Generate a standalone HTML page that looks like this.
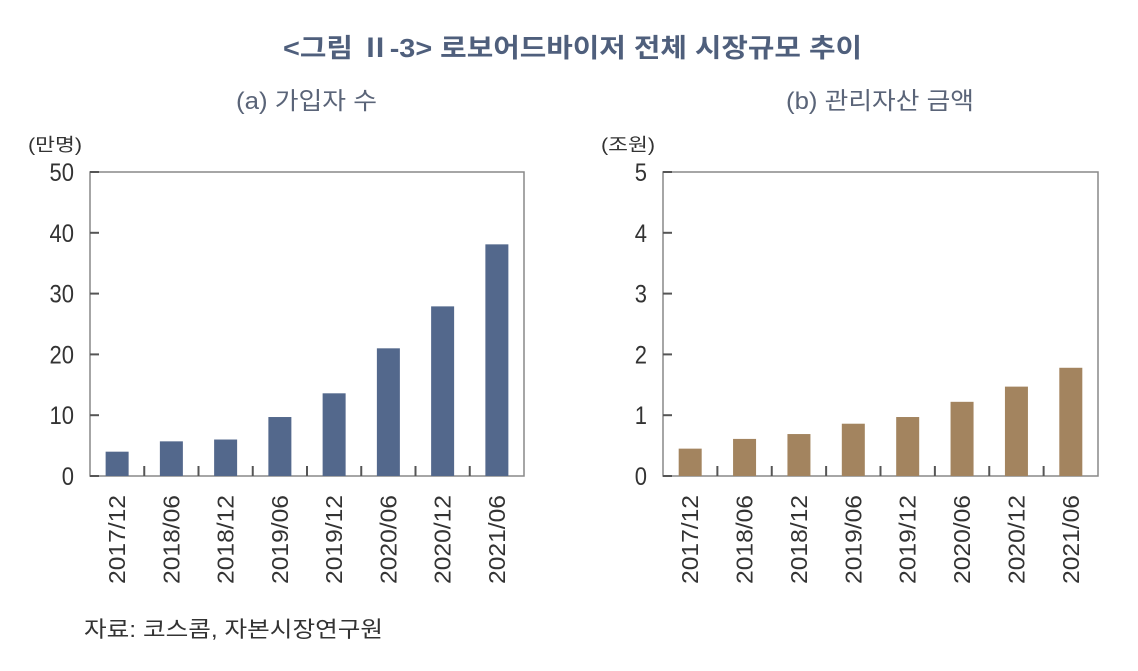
<!DOCTYPE html>
<html><head><meta charset="utf-8"><style>
body{margin:0;background:#fff;width:1138px;height:666px;overflow:hidden;font-family:"Liberation Sans","Noto Sans CJK KR",sans-serif}
</style></head><body>
<svg width="1138" height="666" xmlns="http://www.w3.org/2000/svg" font-family="Liberation Sans, Noto Sans CJK KR, sans-serif">
<text x="283" y="57" font-size="26" font-weight="bold" fill="#4f5f7c" textLength="579" lengthAdjust="spacingAndGlyphs">&lt;그림 Ⅱ-3&gt; 로보어드바이저 전체 시장규모 추이</text>
<text x="236" y="109" font-size="24" fill="#5a6478" textLength="141" lengthAdjust="spacingAndGlyphs">(a) 가입자 수</text>
<text x="786" y="109" font-size="24" fill="#5a6478" textLength="188" lengthAdjust="spacingAndGlyphs">(b) 관리자산 금액</text>
<text x="28" y="151" font-size="18" fill="#333" textLength="54" lengthAdjust="spacingAndGlyphs">(만명)</text>
<text x="601" y="151" font-size="18" fill="#333" textLength="54" lengthAdjust="spacingAndGlyphs">(조원)</text>
<text x="84" y="637" font-size="22" fill="#333" textLength="299" lengthAdjust="spacingAndGlyphs">자료: 코스콤, 자본시장연구원</text>
<g id="ca"></g><g id="cb"></g>
</svg>
<script>
const categories=["2017/12","2018/06","2018/12","2019/06","2019/12","2020/06","2020/12","2021/06"];
const subscribers=[4.0,5.7,6.0,9.7,13.6,21.0,27.9,38.1];
const assets=[0.45,0.61,0.69,0.86,0.97,1.22,1.47,1.78];
const ticksA=[0,10,20,30,40,50];
const ticksB=[0,1,2,3,4,5];
const NS="http://www.w3.org/2000/svg";
function mk(p,t,a){const e=document.createElementNS(NS,t);for(const k in a)e.setAttribute(k,a[k]);p.appendChild(e);return e;}
function draw(g,x0,x1,vals,ticks,color,id){
 const top=172,bot=476,max=ticks[ticks.length-1];
 const y=v=>bot-(v/max)*(bot-top);
 const step=(x1-x0)/categories.length;
 const box=mk(g,'rect',{x:x0,y:top,width:x1-x0,height:bot-top,fill:'none',stroke:'#888','stroke-width':1.5});
 
 
 ticks.forEach(t=>{
  const l=mk(g,'line',{x1:x0,x2:x0+9,y1:y(t),y2:y(t),stroke:'#555','stroke-width':2});
  
  
  const tx=mk(g,'text',{x:x0-16,y:y(t)+9,'text-anchor':'end','font-size':25,fill:'#333',transform:`translate(${(x0-16)*0.12},0) scale(0.88,1)`});
  tx.textContent=t;
  
  
 });
 categories.forEach((c,i)=>{
  const cx=x0+step*(i+0.5);
  const r=mk(g,'rect',{x:cx-11.5,y:y(vals[i]),width:23,height:bot-y(vals[i]),fill:color});
  
  
  if(i>0){const l=mk(g,'line',{x1:x0+step*i,x2:x0+step*i,y1:bot,y2:bot-10,stroke:'#555','stroke-width':2});
  
  }
  const tx=mk(g,'text',{x:0,y:0,'text-anchor':'end','font-size':23,fill:'#333',textLength:89,lengthAdjust:'spacingAndGlyphs',transform:`translate(${cx+8},495) rotate(-90)`});
  tx.textContent=c;
  
  
 });
}
draw(document.getElementById('ca'),90,524,subscribers,ticksA,'#53688c','chart-a');
draw(document.getElementById('cb'),663,1098,assets,ticksB,'#a3845f','chart-b');
</script>
</body></html>
